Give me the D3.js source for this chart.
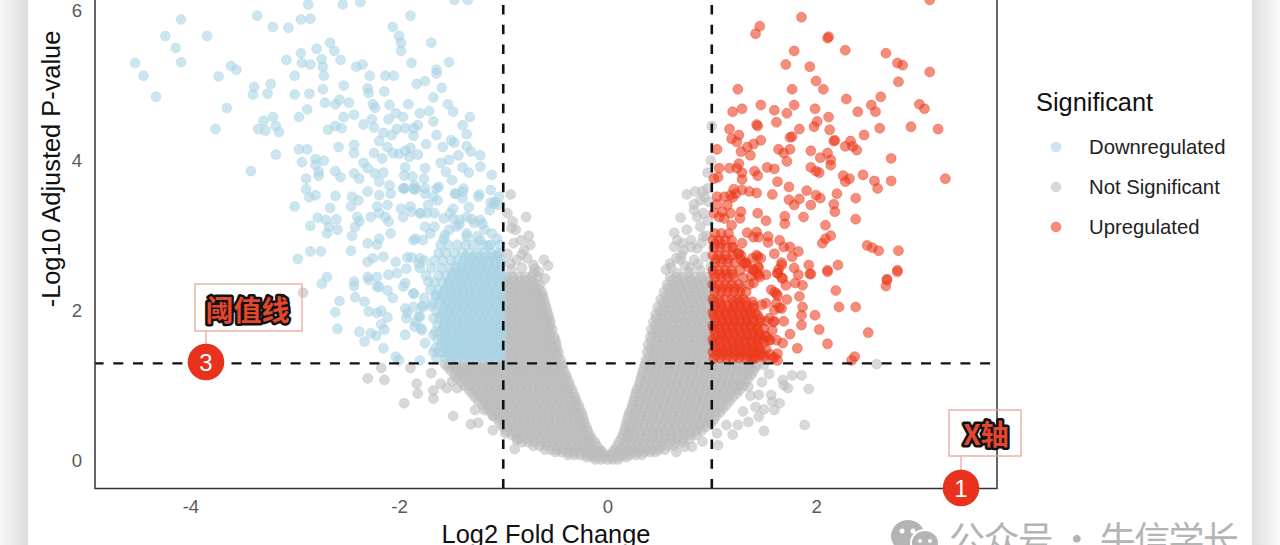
<!DOCTYPE html>
<html>
<head>
<meta charset="utf-8">
<script src="https://cdn.jsdelivr.net/npm/d3@7"></script>
<style>
html,body{margin:0;padding:0;background:#fff;overflow:hidden;}
svg{display:block;font-family:"Liberation Sans",Arial,sans-serif;}
</style>
</head>
<body>
<svg id="chart" width="1280" height="545"></svg>
<script>
var xTicks = [-4,-2,0,2];
var yTicks = [0,2,4,6];
var legendLabels = ["Downregulated","Not Significant","Upregulated"];
var pCut = 1.3;
var fcCut = [-1,1];

// grey mass, read row by row: one -log10 p per row, fold changes in that row
var greyP = [0.02,0.08,0.15,0.25,0.35,0.45,0.55,0.65,0.75,0.85,0.95,1.05,1.15,1.25,1.35,1.45,1.55,1.65,1.75,1.85,1.95,2.05,2.15,2.25,2.35,2.45];
var greyFC = [
[-.12,-.06,0,.05,.1],
[-.38,-.32,-.26,-.2,-.15,-.09,-.03,.03,.09,.15,.21,.27,.33],
[-.6,-.54,-.48,-.43,-.37,-.31,-.25,-.19,-.13,-.07,.07,.13,.19,.25,.31,.37,.43,.49,.55],
[-.82,-.76,-.7,-.64,-.58,-.52,-.46,-.4,-.34,-.28,-.22,-.16,-.12,.11,.17,.23,.29,.35,.41,.47,.53,.59,.65,.72],
[-.92,-.87,-.81,-.75,-.69,-.63,-.57,-.51,-.45,-.39,-.33,-.27,-.21,-.17,.15,.2,.26,.32,.38,.44,.5,.56,.62,.68,.74,.8,.85],
[-1,-.95,-.89,-.83,-.77,-.71,-.65,-.59,-.53,-.47,-.41,-.35,-.29,-.24,-.2,.17,.22,.28,.34,.4,.46,.52,.58,.64,.7,.76,.82,.88,.94],
[-1.05,-.99,-.93,-.87,-.81,-.75,-.69,-.63,-.57,-.51,-.45,-.39,-.33,-.27,-.23,.19,.25,.31,.37,.43,.49,.55,.61,.67,.73,.79,.85,.91,.97,1.02],
[-1.12,-1.06,-1,-.94,-.88,-.82,-.76,-.7,-.64,-.58,-.52,-.46,-.4,-.34,-.29,-.25,.21,.27,.33,.39,.45,.51,.57,.63,.69,.75,.81,.87,.93,.99,1.04,1.08],
[-1.2,-1.14,-1.08,-1.02,-.96,-.9,-.84,-.78,-.72,-.66,-.6,-.54,-.48,-.42,-.36,-.31,-.28,.24,.3,.36,.42,.48,.54,.6,.66,.72,.78,.84,.9,.96,1.02,1.08,1.14],
[-1.27,-1.21,-1.15,-1.09,-1.03,-.97,-.91,-.85,-.79,-.73,-.67,-.61,-.55,-.49,-.43,-.37,-.31,.26,.32,.38,.44,.5,.56,.62,.68,.74,.8,.86,.92,.98,1.04,1.1,1.15,1.2],
[-1.33,-1.27,-1.2,-1.14,-1.08,-1.02,-.96,-.9,-.84,-.78,-.72,-.66,-.6,-.54,-.48,-.42,-.38,-.34,.28,.34,.4,.46,.52,.58,.64,.7,.76,.82,.88,.94,1,1.06,1.12,1.18,1.23,1.27],
[-1.4,-1.34,-1.28,-1.22,-1.16,-1.1,-1.04,-.98,-.92,-.86,-.8,-.74,-.68,-.62,-.56,-.5,-.44,-.37,.31,.37,.43,.49,.55,.61,.67,.73,.79,.85,.91,.97,1.03,1.09,1.15,1.21,1.27,1.32],
[-1.47,-1.41,-1.35,-1.29,-1.23,-1.17,-1.11,-1.05,-.99,-.93,-.87,-.81,-.75,-.69,-.63,-.57,-.51,-.45,-.4,.33,.39,.45,.51,.57,.63,.69,.75,.81,.87,.93,.99,1.05,1.11,1.17,1.23,1.29,1.34,1.38],
[-1.53,-1.47,-1.41,-1.35,-1.29,-1.23,-1.17,-1.11,-1.05,-.99,-.93,-.87,-.81,-.75,-.69,-.63,-.57,-.51,-.47,-.43,.35,.41,.47,.53,.59,.65,.71,.77,.83,.89,.95,1.01,1.07,1.13,1.19,1.25,1.31,1.37,1.42],
[-.99,-.93,-.87,-.81,-.75,-.69,-.63,-.57,-.51,-.45,.37,.43,.49,.55,.61,.67,.73,.79,.85,.91,.97],
[-.98,-.92,-.86,-.8,-.74,-.68,-.62,-.56,-.5,-.47,.38,.44,.5,.56,.62,.68,.74,.8,.86,.92,.98],
[-.99,-.93,-.87,-.81,-.75,-.69,-.63,-.57,-.53,-.49,.39,.45,.51,.57,.63,.69,.75,.81,.87,.93,.97],
[-.98,-.92,-.86,-.8,-.74,-.68,-.62,-.56,-.51,.41,.47,.53,.59,.65,.71,.77,.83,.89,.95,.99],
[-.99,-.93,-.87,-.81,-.75,-.69,-.63,-.57,-.53,.42,.48,.54,.6,.66,.72,.78,.84,.9,.96],
[-.98,-.92,-.86,-.8,-.74,-.68,-.62,-.58,-.55,.44,.5,.56,.62,.68,.74,.8,.86,.92,.98],
[-.99,-.93,-.87,-.81,-.75,-.69,-.63,-.57,.46,.52,.58,.64,.7,.76,.82,.88,.94,.99],
[-.98,-.92,-.86,-.8,-.74,-.68,-.63,-.59,.48,.54,.6,.66,.72,.78,.84,.9,.96],
[-.99,-.93,-.87,-.81,-.75,-.69,-.65,-.61,.51,.57,.63,.69,.75,.81,.87,.93,.98],
[-.98,-.92,-.86,-.8,-.74,-.68,-.63,.54,.6,.66,.72,.78,.84,.9,.96],
[-.99,-.93,-.87,-.81,-.75,-.7,-.65,.57,.63,.69,.75,.81,.87,.93,.99],
[-.97,-.91,-.85,-.79,-.73,-.67,.6,.66,.72,.78,.84,.9,.96]
];
// rows lying between the ones above, the mass is solid there
var greyPB = [0.05,0.12,0.2,0.3,0.4,0.5,0.6,0.7,0.8,0.9,1,1.1,1.2,1.29,1.4,1.5,1.6,1.7,1.8,1.9,2,2.1,2.2,2.3,2.4];
var greyFCB = [
[-.2,-.14,-.08,-.02,.04,.12,.18],
[-.5,-.44,-.38,-.32,-.27,-.21,-.15,-.09,-.05,.05,.11,.17,.23,.29,.35,.41,.46],
[-.71,-.65,-.59,-.53,-.47,-.41,-.35,-.29,-.23,-.17,-.1,.09,.16,.22,.28,.34,.4,.46,.52,.58,.64],
[-.87,-.84,-.78,-.72,-.66,-.6,-.54,-.48,-.42,-.36,-.3,-.24,-.18,-.15,.13,.19,.25,.31,.37,.43,.49,.55,.61,.67,.73,.79],
[-.97,-.91,-.85,-.79,-.73,-.67,-.61,-.55,-.49,-.43,-.37,-.31,-.25,-.19,.16,.21,.25,.31,.37,.43,.49,.55,.61,.67,.73,.79,.85,.9],
[-1.03,-.98,-.92,-.86,-.8,-.74,-.68,-.62,-.56,-.5,-.44,-.38,-.32,-.26,-.22,.18,.23,.29,.35,.41,.47,.53,.59,.65,.71,.77,.83,.89,.95,.99],
[-1.09,-1.03,-.97,-.91,-.85,-.79,-.73,-.67,-.61,-.55,-.49,-.43,-.37,-.31,-.24,.2,.26,.32,.38,.44,.5,.56,.62,.68,.74,.8,.86,.92,.98,1.04],
[-1.16,-1.1,-1.04,-.98,-.92,-.86,-.8,-.74,-.68,-.62,-.56,-.5,-.44,-.38,-.32,-.27,.23,.29,.35,.41,.47,.53,.59,.65,.71,.77,.83,.89,.95,1.01,1.07,1.11],
[-1.24,-1.18,-1.12,-1.06,-1,-.94,-.88,-.82,-.76,-.7,-.64,-.58,-.52,-.46,-.4,-.34,-.3,.25,.31,.37,.43,.49,.55,.61,.67,.73,.79,.85,.91,.97,1.03,1.09,1.17],
[-1.3,-1.24,-1.18,-1.12,-1.06,-1,-.94,-.88,-.82,-.76,-.7,-.64,-.58,-.52,-.46,-.4,-.33,.27,.33,.39,.45,.51,.57,.63,.69,.75,.81,.87,.93,.99,1.05,1.11,1.17,1.24],
[-1.37,-1.31,-1.25,-1.19,-1.13,-1.07,-1.01,-.95,-.89,-.83,-.77,-.71,-.65,-.59,-.53,-.47,-.41,-.36,.3,.36,.42,.48,.54,.6,.66,.72,.78,.84,.9,.96,1.02,1.08,1.14,1.2,1.26,1.3],
[-1.44,-1.38,-1.32,-1.26,-1.2,-1.14,-1.08,-1.02,-.96,-.9,-.84,-.78,-.72,-.66,-.6,-.54,-.48,-.42,-.39,.32,.38,.44,.5,.56,.62,.68,.74,.8,.86,.92,.98,1.04,1.1,1.16,1.22,1.28,1.35],
[-1.5,-1.44,-1.38,-1.32,-1.26,-1.2,-1.14,-1.08,-1.02,-.96,-.9,-.84,-.78,-.72,-.66,-.6,-.54,-.48,-.42,.34,.4,.46,.52,.58,.64,.7,.76,.82,.88,.94,1,1.06,1.12,1.18,1.24,1.3,1.36,1.4],
[-1.56,-1.5,-1.44,-1.38,-1.32,-1.26,-1.2,-1.14,-1.08,-1.02,-.96,-.9,-.84,-.78,-.72,-.66,-.6,-.54,-.48,-.44,.36,.42,.48,.54,.6,.66,.72,.78,.84,.9,.96,1.02,1.08,1.14,1.2,1.26,1.32,1.38,1.44],
[-.96,-.9,-.84,-.78,-.72,-.66,-.6,-.54,-.48,.4,.46,.52,.58,.64,.7,.76,.82,.88,.94],
[-.95,-.89,-.83,-.77,-.71,-.65,-.59,-.53,-.49,.41,.47,.53,.59,.65,.71,.77,.83,.89,.95],
[-.96,-.9,-.84,-.78,-.72,-.66,-.6,-.55,-.5,.42,.48,.54,.6,.66,.72,.78,.84,.9,.95],
[-.95,-.89,-.83,-.77,-.71,-.65,-.59,-.54,.44,.5,.56,.62,.68,.74,.8,.86,.92,.97],
[-.96,-.9,-.84,-.78,-.72,-.66,-.6,-.55,.46,.51,.57,.63,.69,.75,.81,.87,.93],
[-.95,-.89,-.83,-.77,-.71,-.65,-.59,-.56,.47,.53,.59,.65,.71,.77,.83,.89,.95],
[-.96,-.9,-.84,-.78,-.72,-.66,-.62,-.58,.5,.55,.61,.67,.73,.79,.85,.91,.97],
[-.95,-.89,-.83,-.77,-.71,-.65,-.6,.53,.58,.64,.7,.76,.82,.88,.94],
[-.96,-.9,-.84,-.78,-.72,-.67,-.62,.56,.61,.67,.73,.79,.85,.91,.97],
[-.95,-.89,-.83,-.77,-.71,-.66,.58,.64,.7,.76,.82,.88,.94],
[-.96,-.9,-.84,-.78,-.72,.62,.68,.74,.8,.86,.92,.98]
];
var greyFC2 = [-.93,-.78,-.96,-.91,-.88,-.755,-.74,-.83,-.9,-.8,-.61,-.57,-.71,-.82,-.71,-.6,-.93,-.96,-.87,-.92,-.92,-.82,-.77,-.7,-.66,
 .76,.84,.96,.99,.96,1,.91,.89,.83,.7,.86,.64,.76,.89,.67,.8,.92,.64,.73,.86,.6,.7,.83,.94,.56,.67,.78,.89,.99,.92,.97,.9,.8,.74,.95,.87,.79,.71,.83,.93,.96,.72,.66,.61,
 1.55,1.68,1.77,1.86,1.93,1.73,1.69,1.48,1.35,1.57,1.45,1.37,1.65,1.58,1.6,1.42,1.5,1.3,1.35,1.45,1.5,1.89,1.25,1.2,1.14,1.05,1.06,.91,.81,.74,.66,2.58,1.5,
 -2.92,-2.17,-1.89,-2.3,-2.14,-1.69,-1.83,-1.82,-1.67,-1.67,-1.95,-1.6,-1.54,-1.49,-1.44,-1.48,-1.31,-1.24,-1.27,-1.18,-1.1,-1.1,-.98,-.89,-.87];
var greyP2 = [3.55,3.25,3.3,3.19,3.08,3,2.88,2.94,2.9,2.81,2.68,2.6,2.61,2.57,2.5,2.43,2.63,2.76,2.68,2.55,3.1,2.75,2.7,2.56,2.52,
 3.55,3.59,3.63,4,3.84,4.46,3.59,3.47,3.34,3.24,3.25,3.04,3.08,3.12,2.94,2.94,2.99,2.85,2.81,2.83,2.63,2.68,2.68,2.72,2.55,2.5,2.52,2.54,2.59,3.3,3.45,2.9,2.85,2.6,3,2.62,2.58,2.74,3.42,3.52,3.2,2.9,2.7,2.58,
 1.16,1.08,1.14,1.14,.96,.97,1.01,1.05,.99,.88,.88,.87,.77,.79,.68,.72,.69,.66,.52,.59,.4,.48,.48,.35,.48,.37,.21,.26,.19,.19,.12,1.29,1.28,
 2.24,1.24,1.24,1.1,1.08,1.17,1.03,.9,.94,.83,.77,1.03,.97,1.06,.97,.6,.49,.51,.68,.68,.6,.41,.37,.16,.28];

// blue solid block, same row layout
var downP = [1.37,1.45,1.53,1.62,1.72,1.81,1.9,2,2.1,2.19,2.28,2.38,2.47,2.57,2.67,2.77,2.88];
var downFC = [
[-1.02,-1.08,-1.14,-1.2,-1.26,-1.32,-1.38,-1.44,-1.5,-1.56],
[-1.04,-1.1,-1.16,-1.22,-1.28,-1.34,-1.4,-1.46,-1.52,-1.58,-1.62],
[-1.01,-1.07,-1.13,-1.19,-1.25,-1.31,-1.37,-1.43,-1.49,-1.55,-1.6],
[-1.03,-1.09,-1.15,-1.21,-1.27,-1.33,-1.39,-1.45,-1.51,-1.57,-1.63],
[-1.01,-1.07,-1.13,-1.19,-1.25,-1.31,-1.37,-1.43,-1.49,-1.55,-1.6,-1.65],
[-1.03,-1.09,-1.15,-1.21,-1.27,-1.33,-1.39,-1.45,-1.51,-1.57,-1.63],
[-1.02,-1.08,-1.14,-1.2,-1.26,-1.32,-1.38,-1.44,-1.5,-1.56,-1.61,-1.67],
[-1.04,-1.1,-1.16,-1.22,-1.28,-1.34,-1.4,-1.46,-1.52,-1.58,-1.64],
[-1.01,-1.07,-1.13,-1.19,-1.25,-1.31,-1.37,-1.43,-1.49,-1.55,-1.61,-1.68],
[-1.03,-1.09,-1.15,-1.21,-1.27,-1.33,-1.39,-1.45,-1.51,-1.57,-1.64],
[-1.02,-1.08,-1.14,-1.2,-1.26,-1.32,-1.38,-1.44,-1.5,-1.56,-1.62,-1.7],
[-1.04,-1.1,-1.16,-1.22,-1.28,-1.34,-1.4,-1.46,-1.52,-1.58,-1.66],
[-1.01,-1.07,-1.13,-1.19,-1.25,-1.31,-1.37,-1.43,-1.49,-1.55,-1.62,-1.74],
[-1.03,-1.09,-1.15,-1.21,-1.27,-1.33,-1.39,-1.45,-1.51,-1.59,-1.69,-1.8],
[-1.02,-1.08,-1.14,-1.2,-1.26,-1.32,-1.38,-1.44,-1.5,-1.58,-1.66,-1.76],
[-1.04,-1.11,-1.18,-1.25,-1.33,-1.39,-1.47,-1.55,-1.62],
[-1.03,-1.12,-1.2,-1.29,-1.36,-1.44,-1.53,-1.6]
];
var downPB = [1.41,1.49,1.58,1.67,1.76,1.85,1.95,2.05,2.14,2.24,2.33,2.43,2.52,2.62,2.72];
var downFCB = [
[-1.05,-1.11,-1.17,-1.23,-1.29,-1.35,-1.41,-1.47,-1.53],
[-1.02,-1.08,-1.14,-1.2,-1.26,-1.32,-1.38,-1.44,-1.5,-1.55],
[-1.05,-1.11,-1.17,-1.23,-1.29,-1.35,-1.41,-1.47,-1.53,-1.59],
[-1.02,-1.08,-1.14,-1.2,-1.26,-1.32,-1.38,-1.44,-1.5,-1.56],
[-1.05,-1.11,-1.17,-1.23,-1.29,-1.35,-1.41,-1.47,-1.53,-1.58],
[-1.02,-1.08,-1.14,-1.2,-1.26,-1.32,-1.38,-1.44,-1.5,-1.56],
[-1.05,-1.11,-1.17,-1.23,-1.29,-1.35,-1.41,-1.47,-1.53,-1.6],
[-1.02,-1.08,-1.14,-1.2,-1.26,-1.32,-1.38,-1.44,-1.5,-1.56],
[-1.05,-1.11,-1.17,-1.23,-1.29,-1.35,-1.41,-1.47,-1.53,-1.6],
[-1.02,-1.08,-1.14,-1.2,-1.26,-1.32,-1.38,-1.44,-1.5,-1.57],
[-1.05,-1.11,-1.17,-1.23,-1.29,-1.35,-1.41,-1.47,-1.53],
[-1.02,-1.08,-1.14,-1.2,-1.26,-1.32,-1.38,-1.44,-1.5],
[-1.05,-1.11,-1.17,-1.23,-1.29,-1.35,-1.41,-1.47],
[-1.02,-1.08,-1.14,-1.2,-1.26,-1.32,-1.4],
[-1.05,-1.11,-1.17,-1.23,-1.29,-1.36]
];
var downFC2 = [-4.09,-4.24,-4.14,-4.09,-4.53,-4.45,-4.33,-3.84,-3.36,-3.21,-3.06,-2.94,-2.85,-2.87,-2.54,-2.37,-1.89,-2.06,-2,-1.98,-1.98,-1.69,-2.66,-2.79,-2.62,-2.94,-3.08,-2.93,-2.85,-2.74,-2.73,-2.56,-2.41,-2.35,-1.88,-1.52,-1.64,-1.64,-3.61,-3.56,-3.73,-3,-2.72,-2.28,-2.13,-2.05,-3.39,-3.4,-3.26,-3.23,-3,-2.86,-2.73,-2.53,-2.3,-2.29,-2.14,-1.83,-1.75,-1.59,-1.67,-3.65,-3.76,-2.71,-2.61,-2.57,-2.48,-2.25,-2.23,-2.09,-1.91,-1.53,-1.48,-2.88,-2.96,-3.21,-3.3,-3.18,-3.35,-3.28,-3.15,-2.53,-2.43,-2.26,-2.1,-2.03,-1.96,-1.8,-1.71,-1.67,-1.32,-1.39,-2.68,-2.61,-2.55,-2.34,-2.24,-2.15,-2.07,-2.02,-1.94,-1.86,-1.82,-1.86,-1.64,-1.35,-2.19,-3.18,-2.96,-2.88,-2.58,-2.43,-1.74,-1.5,-1.58,-1.47,-1.35,-2.43,-2.24,-2.16,-2.11,-2.06,-2,-1.94,-1.89,-1.9,-1.82,-2.93,-2.8,-2.72,-2.8,-3.42,-2.77,-2.77,-2.61,-2.56,-2.34,-2.3,-2.43,-2.38,-2.23,-2.15,-1.94,-1.75,-1.95,-1.87,-1.76,-1.6,-1.52,-1.39,-1.33,-1.22,-1.11,-1.31,-1.22,-1.43,-1.55,-1.49,-2.89,-2.89,-2.86,-2.8,-3,-2.66,-2.61,-2.78,-2.7,-2.6,-2.85,-2.67,-2.59,-2.69,-2.45,-2.46,-2.39,-2.3,-2.19,-2.19,-2.09,-2.08,-1.95,-1.84,-1.75,-1.62,-1.63,-1.39,-1.46,-1.23,-1.12,-1.04,-1.09,-2.4,-2.38,-2.42,-2.45,-2.27,-2.19,-2.13,-2.1,-2.21,-2.11,-1.98,-1.89,-2.08,-2.19,-2.3,-2.21,-2.46,-2.85,-2.75,-2.97,-2.3,-2.25,-2.15,-2.03,-1.92,-2.69,-2.3,-2.21,-2.1,-2.02,-2.74,-2.43,-2.43,-2.29,-2.21,-2.19,-2.11,-2.06,-2.57,-2.42,-2.33,-2.21,-2.61,-2.29,-2.17,-2.11,-2.17,-2.59,-2.38,-2.22,-2.33,-2.14,-2.27,-2.03,-2,-2.15,-1.84,-1.79,-1.94,-1.86,-1.78,-1.92,-1.8,-1.86,-1.76,-1.94,-1.95,-1.86,
 -1.96,-1.85,-1.75,-1.64,-1.46,-1.38,-1.24,-1.13,-1.05,-1.96,-1.88,-1.8,-1.72,-1.57,-1.48,-1.48,-1.33,-1.22,-1.11,-1.06,-1.86,-1.77,-1.7,-1.57,-1.45,-1.35,-1.25,-1.14,-1.06,-1.88,-1.81,-1.93,-1.8,-1.72,-1.65,-1.86,-1.96,-1.77,-1.69,-1.93,-1.81,-1.94,-1.78,-1.67,-1.85,-1.75,-1.65,-1.67,-1.8,-1.64,-1.85,-1.67,
 -1.39,-1.35,-1.42,-1.73,-1.79,-1.66,-1.51,-1.35,-1.22,-1.84,-1.75,-1.66,-1.52,-1.28,-1.12,-1.3,-1.18,-1.42,-1.56,-1.08,-1.2,-1.34,-1.47];
var downP2 = [5.88,5.66,5.5,5.31,5.3,5.13,4.85,5.66,5.93,5.78,5.77,5.88,5.89,6.08,6.08,6.11,5.93,5.78,5.66,5.57,5.46,5.57,5.57,5.49,5.46,5.43,5.34,5.3,5.28,5.35,5.25,5.34,5.25,5.28,5.3,5.31,5.21,5.16,5.26,5.21,5.12,5.13,5.13,5.13,5.13,5.13,4.98,4.88,4.89,5.02,4.88,4.89,4.95,5,4.96,4.9,4.92,5.02,5.06,4.97,4.84,4.7,4.42,4.77,4.75,4.81,4.77,4.75,4.7,4.74,4.75,4.75,4.65,4.68,4.58,4.58,4.53,4.46,4.42,4.4,4.38,4.58,4.61,4.55,4.55,4.63,4.58,4.63,4.66,4.52,4.58,4.47,4.41,4.46,4.43,4.48,4.44,4.37,4.34,4.42,4.43,4.43,4.47,4.33,4.34,4.35,4.26,4.08,4.15,4.15,4.18,4.21,4.22,4.27,4.18,4.24,4.19,4.1,4.1,4.03,4.18,4.1,4.09,4.13,4.17,4.05,4.08,3.98,4.02,4,3.94,3.86,3.85,3.8,3.86,3.78,3.97,3.9,3.83,3.76,3.83,3.84,3.91,3.9,3.8,3.79,3.76,3.97,4.01,3.91,3.84,3.92,3.81,4.12,4.07,4.07,3.85,3.74,3.76,3.62,3.51,3.54,3.39,3.37,3.53,3.24,3.21,3.22,3.13,3.12,3.08,3.03,3.52,3.39,3.47,3.59,3.54,3.72,3.67,3.56,3.63,3.63,3.63,3.65,3.47,3.59,3.56,3.55,3.61,3.52,3.43,3.25,3.19,3.12,3,3.25,3.3,3.25,3.19,3.39,3.41,3.36,3.39,3.03,2.96,2.9,2.88,2.8,2.79,2.79,2.69,2.65,2.7,2.72,2.65,2.71,2.45,2.45,2.45,2.48,2.5,2.36,2.39,2.33,2.41,2.32,2.32,2.27,2.17,2.13,2.18,2.12,1.97,1.98,1.99,2,1.91,1.82,1.76,1.72,1.67,1.59,1.75,1.7,1.39,1.34,1.5,1.85,1.77,1.68,2.05,2.06,1.97,1.92,2.23,2.17,2.37,
 3.63,3.63,3.63,3.67,3.56,3.63,3.56,3.63,3.52,3.34,3.41,3.25,3.32,3.3,3.41,3.23,3.36,3.23,3.38,3.21,3.03,2.96,2.94,2.94,3.03,2.96,3.12,3.03,2.99,2.87,2.74,2.71,2.63,2.56,2.7,2.39,2.21,2.23,2.32,2.05,2.06,1.9,1.93,2.03,1.74,1.68,1.79,1.57,1.5,1.45,1.34,1.37,
 3.61,3.52,3.5,3.25,3.21,3.3,3.3,3.3,3.3,2.99,2.94,2.96,3.12,3.12,3.08,3.17,3.44,3.22,3.08,3.15,3.01,3.45,3.16];

// red solid block, same row layout
var upP = [1.37,1.45,1.53,1.62,1.71,1.8,1.89,1.98,2.07,2.16,2.25,2.35,2.44,2.54,2.64,2.74,2.84,2.94,3.03];
var upFC = [
[1.02,1.08,1.14,1.2,1.26,1.32,1.38,1.42],
[1.01,1.07,1.13,1.19,1.25,1.31,1.37,1.43,1.47],
[1.03,1.09,1.15,1.21,1.27,1.33,1.39,1.44],
[1.01,1.07,1.13,1.19,1.25,1.31,1.37,1.43,1.48],
[1.03,1.09,1.15,1.21,1.27,1.33,1.39,1.45],
[1.01,1.07,1.13,1.19,1.25,1.31,1.37,1.43],
[1.03,1.09,1.15,1.21,1.27,1.33,1.39,1.46],
[1.01,1.07,1.13,1.19,1.25,1.31,1.36],
[1.03,1.09,1.15,1.21,1.27,1.33,1.4],
[1.01,1.07,1.13,1.19,1.25,1.3],
[1.03,1.09,1.15,1.21,1.27,1.33],
[1.01,1.07,1.13,1.19,1.26,1.36],
[1.03,1.09,1.15,1.21,1.3],
[1.01,1.07,1.13,1.19,1.27,1.4],
[1.03,1.09,1.15,1.22,1.33],
[1.01,1.07,1.13,1.2,1.28],
[1.02,1.08,1.14,1.2],
[1.01,1.07,1.13,1.19],
[1.03,1.09,1.16]
];
var upPB = [1.41,1.49,1.58,1.67,1.76,1.85,1.94,2.03,2.12,2.3,2.49,2.69,2.89];
var upFCB = [
[1.04,1.1,1.16,1.22,1.28,1.34,1.4,1.46,1.5],
[1.04,1.1,1.16,1.22,1.28,1.34,1.4,1.46,1.52],
[1.02,1.08,1.14,1.2,1.26,1.32,1.38,1.44,1.5],
[1.04,1.1,1.16,1.22,1.28,1.34,1.4,1.46,1.51],
[1.02,1.08,1.14,1.2,1.26,1.32,1.38,1.44,1.5],
[1.04,1.1,1.16,1.22,1.28,1.34,1.4,1.46],
[1.02,1.08,1.14,1.2,1.26,1.32,1.38,1.44],
[1.04,1.1,1.16,1.22,1.28,1.34,1.4],
[1.02,1.08,1.21,1.27,1.33,1.39],
[1.04,1.1,1.16,1.22,1.28],
[1.02,1.08,1.14,1.2],
[1.04,1.1,1.16],
[1.03,1.09]
];
var upFC2 = [1.86,1.46,1.42,2.12,2.11,1.79,2.28,2.67,2.78,2.83,1.71,1.94,3.09,2.79,2,2.07,1.77,1.25,2.29,2.62,2.53,2.57,2.99,3.04,1.47,1.79,1.29,1.2,1.6,1.72,1.99,2.4,2.12,2.01,1.62,1.43,1.44,1.98,2.13,1.84,1.17,2.61,2.91,3.17,2.46,1.26,1.19,1.24,1.47,1.75,1.77,2.17,2.18,2.33,2.28,2.35,2.39,1.05,1.4,1.34,1.64,1.75,1.69,1.28,1.37,1.95,2.04,2.11,2.14,1.72,2.72,1.26,1.07,1.17,1.24,1.53,1.6,1.95,2.14,2,2.03,1.41,1.44,1.29,1.29,2.26,2.28,2.32,2.45,2.56,2.72,3.24,2.59,1.63,1.74,1.06,1.02,1.21,1.29,1.36,1.43,1.58,1.91,2,2.04,2.2,2.38,1.74,1.79,1.84,1.95,2.17,2.18,2.38,1.44,1.52,1.7,1.7,1.88,2.09,2.14,2.09,2.06,2.49,2.54,2.6,2.79,2.78,2.21,2.11,1.93,1.94,2.68,1.12,1.18,1.23,1.2,1.05,1.05,1.15,1.28,1.27,1.19,1.02,1.07,1.12,1.18,1.1,1.34,1.43,1.4,1.45,1.54,1.54,1.65,1.29,1.69,1.75,1.83,1.2,1.77,1.6,1.44,1.26,1.79,1.83,1.67,1.31,1.44,1.63,3.09,2.19,2.22,2.38,2.5,2.68,2.67,2.78,1.99,2.03,2.11,1.82,1.75,1.87,1.86,1.86,1.69,1.68,2.37,2.34,1.63,1.63,1.58,1.58,1.6,1.62,1.55,1.52,1.72,1.62,1.67,1.84,1.71,1.8,1.87,1.95,2.11,1.68,1.63,1.45,1.52,1.4,1.6,1.48,1.42,1.52,1.4,
 1.43,1.4,1.46,1.38,1.45,1.43,1.47,1.39,1.25,1.28,1.32,1.35,1.67,1.67,1.64,1.6,1.57,1.63,1.65,1.62,1.59,1.55,1.56,1.53,1.6,1.56,1.5];
var upP2 = [5.91,5.79,5.69,5.65,5.63,5.46,5.47,5.43,5.3,5.27,5.28,5.25,5.18,5.05,5.06,4.95,4.95,4.95,4.82,4.85,4.74,4.65,4.75,4.69,4.74,4.74,4.69,4.65,4.67,4.63,4.69,4.65,4.58,4.52,4.51,4.48,4.46,4.45,4.41,4.42,4.42,4.43,4.45,4.42,4.34,4.34,4.29,4.25,4.27,4.31,4.32,4.26,4.27,4.26,4.19,4.19,4.14,4.15,4.22,4.18,4.15,4.15,4.1,4.12,4.07,4.13,4.04,4.1,4.01,3.99,4.03,3.96,3.9,3.9,3.9,3.91,3.89,3.91,3.94,3.86,3.84,3.86,3.8,3.84,3.75,3.8,3.72,3.76,3.81,3.73,3.73,3.76,3.63,3.72,3.65,3.78,3.76,3.62,3.61,3.59,3.57,3.55,3.6,3.54,3.5,3.56,3.5,3.48,3.41,3.49,3.41,3.42,3.32,3.22,3.3,3.2,3.26,3.16,3.25,3.14,3,2.96,2.9,2.87,2.84,2.8,2.8,2.54,2.61,2.54,2.61,2.49,2.42,3.52,3.54,3.56,3.51,3.52,3.42,3.41,3.32,3.23,3.14,3.3,3.25,3.23,3.3,3.32,3.04,3.05,2.98,2.98,2.99,2.91,2.94,2.9,2.85,2.85,2.79,2.85,2.72,2.76,2.72,2.76,2.57,2.48,2.61,2.63,2.58,2.5,6.14,2.27,2.05,2.05,1.71,2.41,2.33,2.52,1.94,1.75,1.56,1.5,1.69,2.05,1.94,1.81,1.86,1.57,1.39,1.34,1.43,1.34,1.37,1.74,1.86,1.61,1.61,2.1,2.15,2.23,2.03,2.19,2.34,2.37,2.34,2.49,2.52,2.43,2.5,2.48,2.48,2.37,2.01,2.08,1.97,1.86,1.37,
 2.5,2.55,2.45,2.46,2.58,2.74,2.7,2.7,2.77,2.68,2.64,2.58,2.44,2.64,2.55,2.25,2.28,2.2,2.04,2.1,1.85,1.9,1.61,1.65,1.38,1.42,1.38];

function rows(ps, fcs) {
    var out = [];
    ps.forEach(function (p, i) {
        fcs[i].forEach(function (fc) { out.push({fc: fc, p: p}); });
    });
    return out;
}
function pairs(fcs, ps) {
    return fcs.map(function (fc, i) { return {fc: fc, p: ps[i]}; });
}

var greyPoints = rows(greyP, greyFC).concat(rows(greyPB, greyFCB), pairs(greyFC2, greyP2));
var downPoints = rows(downP, downFC).concat(rows(downPB, downFCB), pairs(downFC2, downP2));
var upPoints = rows(upP, upFC).concat(rows(upPB, upFCB), pairs(upFC2, upP2));

var colors = {down: "#a9d3e3", ns: "#bcbcbc", up: "#ec3a1d"};

var svg = d3.select("#chart");
var defs = svg.append("defs");

// page card and the shadow beside it
var gl = defs.append("linearGradient").attr("id", "shL");
gl.append("stop").attr("offset", 0).attr("stop-color", "#f8f8f8");
gl.append("stop").attr("offset", 1).attr("stop-color", "#dcdcdc");
var gr = defs.append("linearGradient").attr("id", "shR");
gr.append("stop").attr("offset", 0).attr("stop-color", "#dedede");
gr.append("stop").attr("offset", 1).attr("stop-color", "#fbfbfb");
svg.append("rect").attr("x", 0).attr("y", 0).attr("width", 28).attr("height", 545).attr("fill", "url(#shL)");
svg.append("rect").attr("x", 1252).attr("y", 0).attr("width", 28).attr("height", 545).attr("fill", "url(#shR)");

var x = d3.scaleLinear().domain([-4.915,3.735]).range([95,997]);
var y = d3.scaleLinear().domain([-0.366,6.4]).range([488.5,-19.6]);

function drawPoints(data, color) {
    svg.append("g").selectAll("circle")
        .data(data)
        .enter()
        .append("circle")
        .attr("cx", function (d) { return x(d.fc); })
        .attr("cy", function (d) { return y(d.p); })
        .attr("r", 5)
        .attr("fill", color)
        .attr("fill-opacity", 0.58)
        .attr("stroke", color)
        .attr("stroke-opacity", 0.4)
        .attr("stroke-width", 0.9);
}
drawPoints(greyPoints, colors.ns);
drawPoints(downPoints, colors.down);
drawPoints(upPoints, colors.up);

// threshold lines
svg.append("line").attr("x1", x.range()[0]).attr("x2", x.range()[1]).attr("y1", y(pCut)).attr("y2", y(pCut))
    .attr("stroke", "#111").attr("stroke-width", 2.2).attr("stroke-dasharray", "10,9.7").attr("stroke-dashoffset", 1.4);
svg.selectAll(".vcut").data(fcCut).enter().append("line").attr("class", "vcut")
    .attr("x1", function (d) { return x(d); }).attr("x2", function (d) { return x(d); })
    .attr("y1", y.range()[0]).attr("y2", 0)
    .attr("stroke", "#111").attr("stroke-width", 2.6).attr("stroke-dasharray", "9.5,10.25");

// panel border
svg.append("rect").attr("x", x.range()[0]).attr("y", y.range()[1])
    .attr("width", x.range()[1] - x.range()[0]).attr("height", y.range()[0] - y.range()[1])
    .attr("fill", "none").attr("stroke", "#333").attr("stroke-width", 1.5);

// axes
var xAxis = svg.append("g").attr("transform", "translate(0," + y.range()[0] + ")")
    .call(d3.axisBottom(x).tickValues(xTicks).tickSize(0).tickPadding(11).tickFormat(String));
var yAxis = svg.append("g").attr("transform", "translate(" + x.range()[0] + ",0)")
    .call(d3.axisLeft(y).tickValues(yTicks).tickSize(0).tickPadding(13).tickFormat(String));
[xAxis, yAxis].forEach(function (a) {
    a.select(".domain").remove();
    a.selectAll("text").attr("fill", "#5a5a5a").style("font-size", "18.6px")
        .style("font-family", '"Liberation Sans",Arial,sans-serif');
});

svg.append("text").attr("x", 546).attr("y", 543).attr("text-anchor", "middle")
    .style("font-size", "25.4px").attr("fill", "#111").text("Log2 Fold Change");
svg.append("text").attr("transform", "translate(60,169) rotate(-90)").attr("text-anchor", "middle")
    .style("font-size", "25.4px").attr("fill", "#111").text("-Log10 Adjusted P-value");

// legend
svg.append("text").attr("x", 1036).attr("y", 111).style("font-size", "25.4px").attr("fill", "#111").text("Significant");
var legendY = d3.scalePoint().domain(legendLabels).range([147,227]);
var legendColor = d3.scaleOrdinal().domain(legendLabels).range([colors.down, colors.ns, colors.up]);
var lg = svg.selectAll(".lg").data(legendLabels).enter().append("g").attr("class", "lg")
    .attr("transform", function (d) { return "translate(0," + legendY(d) + ")"; });
lg.append("circle").attr("cx", 1056).attr("r", 5).attr("fill", function (d) { return legendColor(d); })
    .attr("fill-opacity", 0.58).attr("stroke", function (d) { return legendColor(d); }).attr("stroke-opacity", 0.4).attr("stroke-width", 0.9);
lg.append("text").attr("x", 1089).attr("dy", "0.35em").style("font-size", "20.3px").attr("fill", "#222").text(function (d) { return d; });

// callouts
var callouts = [
    {text: "阈值线", num: "3", bx: 195, by: 284, bw: 107, bh: 47, cx: 206, cy: 362, tx: 247.5, ty: 311},
    {text: "X轴", num: "1", bx: 949, by: 410, bw: 72, bh: 46, cx: 961, cy: 488, tx: 986, ty: 435}
];
var co = svg.selectAll(".co").data(callouts).enter().append("g").attr("class", "co");
co.append("line").attr("x1", function (d) { return d.cx; }).attr("x2", function (d) { return d.cx; })
    .attr("y1", function (d) { return d.by + d.bh; }).attr("y2", function (d) { return d.cy; })
    .attr("stroke", "#e8a99f").attr("stroke-width", 1.3);
co.append("rect").attr("x", function (d) { return d.bx; }).attr("y", function (d) { return d.by; })
    .attr("width", function (d) { return d.bw; }).attr("height", function (d) { return d.bh; })
    .attr("fill", "none").attr("stroke", "#e8a99f").attr("stroke-width", 1.3);
co.append("text").attr("x", function (d) { return d.tx; })
    .attr("y", function (d) { return d.ty; }).attr("dy", "0.36em")
    .attr("text-anchor", "middle")
    .style("font-family", '"Noto Sans CJK SC"').style("font-weight", 700).style("font-size", "28px")
    .style("paint-order", "stroke").attr("stroke", "#111").attr("stroke-width", 5).attr("stroke-linejoin", "round")
    .attr("fill", "#e2472f").text(function (d) { return d.text; });
co.append("circle").attr("cx", function (d) { return d.cx; }).attr("cy", function (d) { return d.cy; })
    .attr("r", 18.3).attr("fill", "#e8321e");
co.append("text").attr("x", function (d) { return d.cx; }).attr("y", function (d) { return d.cy; }).attr("dy", "0.36em")
    .attr("text-anchor", "middle").style("font-size", "24px").attr("fill", "#fff").text(function (d) { return d.num; });

// watermark
var wm = svg.append("g").attr("fill", "#b4b4b4");
wm.append("ellipse").attr("cx", 908).attr("cy", 536).attr("rx", 17).attr("ry", 16);
wm.append("ellipse").attr("cx", 925).attr("cy", 543).attr("rx", 14).attr("ry", 13).attr("stroke", "#fff").attr("stroke-width", 2);
wm.append("circle").attr("cx", 902).attr("cy", 531).attr("r", 2.5).attr("fill", "#fff");
wm.append("circle").attr("cx", 913).attr("cy", 531).attr("r", 2.5).attr("fill", "#fff");
wm.append("circle").attr("cx", 920).attr("cy", 541).attr("r", 2).attr("fill", "#fff");
wm.append("circle").attr("cx", 930).attr("cy", 541).attr("r", 2).attr("fill", "#fff");
svg.append("text").attr("x", 949).attr("y", 553)
    .style("font-family", '"Noto Sans CJK SC"').style("font-size", "36px").attr("fill", "#b4b4b4")
    .attr("textLength", 290).text("公众号 · 牛信学长");
</script>
</body>
</html>
